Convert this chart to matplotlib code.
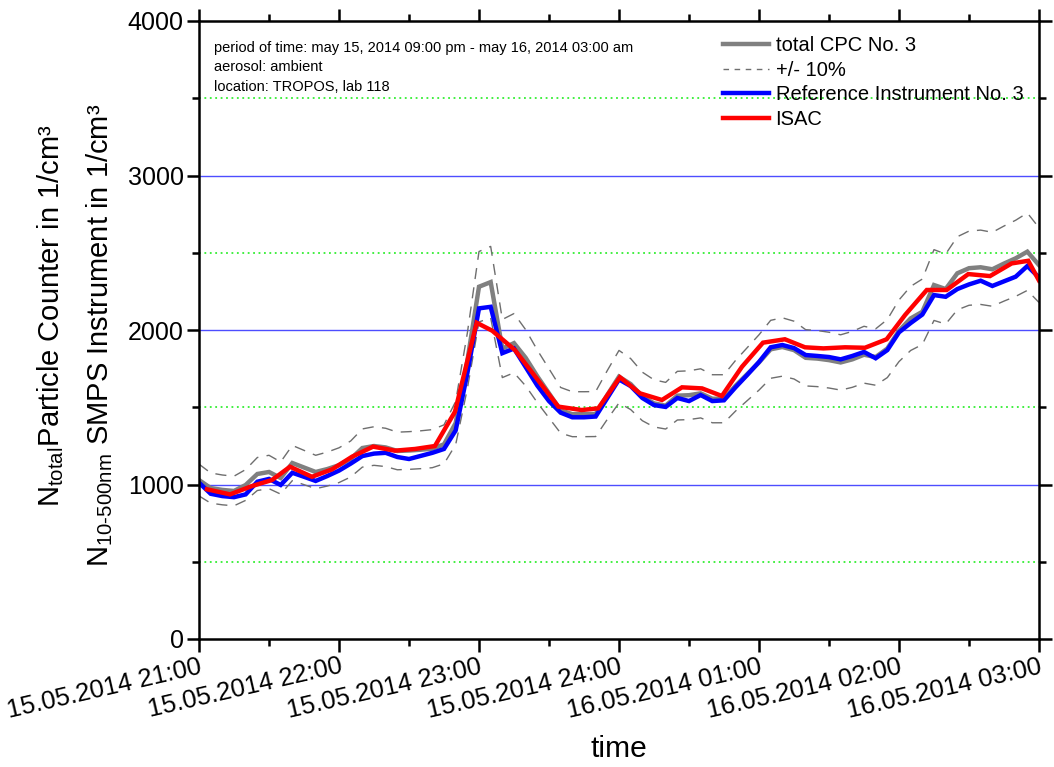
import numpy as np
import matplotlib
matplotlib.use("Agg")
import matplotlib.pyplot as plt
from matplotlib import font_manager
from matplotlib.lines import Line2D

# ---------------- data ----------------
# minutes after 15.05.2014 21:00, 5-minute sampling for CPC and reference
time_grid = np.arange(0, 361, 5)

cpc_total = [1029, 977, 965, 958, 997, 1068, 1081, 1042, 1139, 1110,
             1081, 1100, 1125, 1165, 1236, 1249, 1240, 1217, 1220, 1225,
             1232, 1260, 1398, 1800, 2280, 2310, 1880, 1915, 1820, 1700,
             1590, 1480, 1455, 1455, 1456, 1580, 1698, 1650, 1570, 1525,
             1510, 1575, 1578, 1590, 1555, 1555, 1640, 1715, 1790, 1875,
             1890, 1870, 1820, 1815, 1805, 1790, 1810, 1840, 1825, 1880,
             1995, 2075, 2118, 2291, 2265, 2367, 2400, 2406, 2393, 2430,
             2464, 2507, 2420]

reference_smps = [1012, 940, 925, 918, 936, 1018, 1036, 997, 1076, 1050,
                  1023, 1055, 1090, 1135, 1184, 1200, 1205, 1178, 1165, 1185,
                  1205, 1230, 1350, 1720, 2140, 2150, 1850, 1880, 1760, 1640,
                  1540, 1465, 1435, 1435, 1440, 1560, 1680, 1637, 1560, 1514,
                  1502, 1560, 1540, 1579, 1540, 1545, 1630, 1710, 1793, 1888,
                  1903, 1883, 1838, 1832, 1825, 1810, 1832, 1858, 1817, 1870,
                  1985, 2045, 2100, 2226, 2215, 2265, 2295, 2319, 2285, 2315,
                  2345, 2414, 2340]

# ISAC has its own time stamps
isac_time = [3.4, 13.3, 22.7, 31.3, 39.0, 48.4, 57.0, 65.6, 74.6, 84.0,
             92.6, 101.1, 109.7, 119.0, 125.7, 135.4, 154.0, 164.0, 171.1, 180.4,
             189.0, 198.4, 207.0, 215.6, 224.1, 232.7, 241.7, 251.1, 259.7, 267.6,
             276.9, 285.4, 294.7, 302.6, 311.9, 320.4, 329.7, 339.0, 348.3, 355.4,
             360.0]
isac = [969, 936, 990, 1029, 1115, 1050, 1098, 1180, 1245, 1219,
        1230, 1249, 1471, 2047, 1995, 1870, 1504, 1482, 1493, 1694,
        1590, 1547, 1629, 1622, 1573, 1762, 1918, 1940, 1888, 1881,
        1888, 1885, 1940, 2097, 2259, 2259, 2362, 2349, 2431, 2448,
        2320]

tolerance = 0.10

x_tick_labels = ["15.05.2014 21:00", "15.05.2014 22:00", "15.05.2014 23:00",
                 "15.05.2014 24:00", "16.05.2014 01:00", "16.05.2014 02:00",
                 "16.05.2014 03:00"]
y_ticks = [0, 1000, 2000, 3000, 4000]

info_text = ("period of time: may 15, 2014 09:00 pm - may 16, 2014 03:00 am\n"
             "aerosol: ambient\n"
             "location: TROPOS, lab 118")

# ---------------- fonts ----------------
installed = {f.name for f in font_manager.fontManager.ttflist}
narrow = "Liberation Sans Narrow" if "Liberation Sans Narrow" in installed else "Liberation Sans"
narrow_scale = 1.0 if narrow == "Liberation Sans Narrow" else 0.8

plt.rcParams["font.family"] = ["Liberation Sans", "DejaVu Sans"]
plt.rcParams["mathtext.fontset"] = "custom"
plt.rcParams["mathtext.rm"] = "Liberation Sans"
plt.rcParams["mathtext.it"] = "Liberation Sans"

# ---------------- figure ----------------
W, H = 1054, 767
fig = plt.figure(figsize=(W / 100, H / 100), dpi=100)
ax = fig.add_axes([199 / W, 1 - 639 / H, 840 / W, 618 / H])

ax.set_xlim(0, 360)
ax.set_ylim(0, 4000)

# horizontal grid: solid blue at thousands, dotted green at half-thousands
for v in (1000, 2000, 3000):
    ax.axhline(v, color="#4d4dff", lw=1.0, zorder=1)
for v in (500, 1500, 2500, 3500):
    ax.axhline(v, color="#33ee33", lw=1.3, ls=(0, (1, 2)), zorder=1)

cpc = np.array(cpc_total, dtype=float)
dash_style = (0, (8, 6))
ax.plot(time_grid, cpc * (1 + tolerance), color="#6e6e6e", lw=1.0, ls=dash_style, zorder=2)
ax.plot(time_grid, cpc * (1 - tolerance), color="#6e6e6e", lw=1.0, ls=dash_style, zorder=2)
ax.plot(time_grid, cpc, color="#808080", lw=3.2, zorder=3, solid_joinstyle="miter")
ax.plot(time_grid, reference_smps, color="#0000ff", lw=3.2, zorder=4, solid_joinstyle="miter")
ax.plot(isac_time, isac, color="#ff0000", lw=3.2, zorder=5, solid_joinstyle="miter")

# axes frame and ticks
for s in ax.spines.values():
    s.set_linewidth(1.8)
    s.set_color("black")
    s.set_zorder(6)

ax.set_xticks(range(0, 361, 60))
ax.set_xticks(range(30, 361, 60), minor=True)
ax.set_yticks(y_ticks)
ax.set_yticks([500, 1500, 2500, 3500], minor=True)
ax.tick_params(which="both", direction="out", top=True, right=True,
               labeltop=False, labelright=False, width=1.8, color="black")
ax.tick_params(which="major", length=9)
ax.tick_params(which="minor", length=5)
ax.tick_params(axis="y", which="major", labelsize=18, pad=2)
ax.tick_params(axis="x", which="major", pad=2)

ax.set_xticklabels(x_tick_labels, family=[narrow, "Liberation Sans"],
                   fontsize=23 * narrow_scale)
plt.setp(ax.get_xticklabels(), rotation=13, ha="right", va="top",
         rotation_mode="anchor")

fig.text(619 / W, 1 - 749 / H, "time", ha="center", va="center",
         family=[narrow, "Liberation Sans"], fontsize=27 * narrow_scale)

# two-line y-axis title
fig.text(51 / W, 1 - 316 / H, r"N$_{\mathrm{total}}$Particle Counter in 1/cm³",
         rotation=90, ha="center", va="center", fontsize=21)
fig.text(100 / W, 1 - 335 / H, "N$_{\\mathrm{10\u2010500nm}}$ SMPS Instrument in 1/cm³",
         rotation=90, ha="center", va="center", fontsize=21)

ax.text(0.018, 0.968, info_text, transform=ax.transAxes, ha="left", va="top",
        fontsize=10.5, linespacing=1.5, zorder=7)

handles = [
    Line2D([], [], color="#808080", lw=3.2),
    Line2D([], [], color="#6e6e6e", lw=1.0, ls=(0, (4, 4))),
    Line2D([], [], color="#0000ff", lw=3.2),
    Line2D([], [], color="#ff0000", lw=3.2),
]
labels = ["total CPC No. 3", "+/- 10%", "Reference Instrument No. 3", "ISAC"]
leg = ax.legend(handles, labels, loc="upper left", bbox_to_anchor=(0.612, 0.992),
                frameon=False, fontsize=14.5, handlelength=2.3,
                handletextpad=0.3, labelspacing=0.28, borderaxespad=0.3,
                borderpad=0.2)
leg.set_zorder(7)

fig.savefig("out.png", dpi=100)
